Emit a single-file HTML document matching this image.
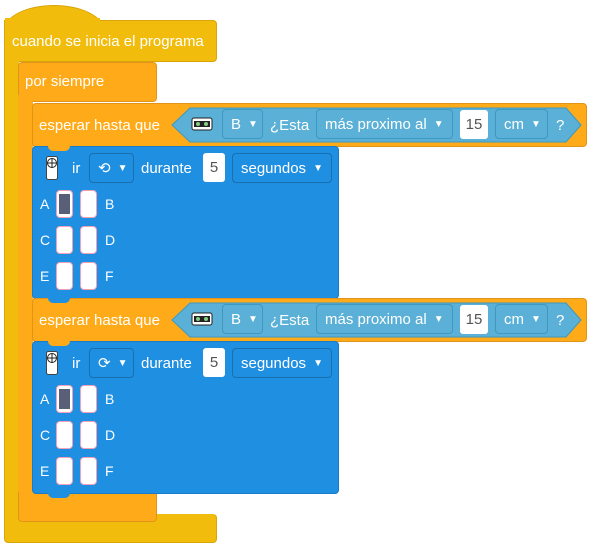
<!DOCTYPE html>
<html><head><meta charset="utf-8"><style>
body{margin:0;width:600px;height:558px;background:#fff;position:relative;overflow:hidden;font-family:"Liberation Sans",sans-serif;}
.a{position:absolute;box-sizing:border-box;}
.t{position:absolute;color:#fff;font-size:15px;line-height:18px;white-space:nowrap;}
.y{background:#f2bc0c;border:1px solid #d9a60a;border-radius:4px;}
.o{background:#ffab19;border:1px solid #e0941a;border-radius:4px;}
.b{background:#1f8fe2;border:1px solid #1a7cc6;border-radius:4px;}
.dd{position:absolute;box-sizing:border-box;border:1px solid #1a6fae;border-radius:4px;color:#fff;font-size:15px;padding-left:8px;white-space:nowrap;display:flex;align-items:center;gap:7px;}
.dd i{font-style:normal;font-size:10px;}
.ddl{border-color:#3d98c2;background:#5ab0d6;}
.w{position:absolute;background:#fff;border-radius:3px;color:#555;font-size:15px;display:flex;align-items:center;justify-content:center;}
.cell{position:absolute;width:17px;height:28px;background:#fff;border:1px solid #f3a0b8;border-radius:4px;box-sizing:border-box;}
.lbl{position:absolute;color:#fff;font-size:14px;}
</style></head><body>
<!-- hat -->
<div class="a" style="left:4px;top:5px;width:100px;height:40px;background:#f2bc0c;border-radius:60px 60px 0 0/30px 30px 0 0;border:1px solid #d9a60a"></div>
<div class="a y" style="left:4px;top:20px;width:213px;height:42px;border-radius:0 4px 4px 0;border-left:1px solid #d9a60a"></div>
<div class="a" style="left:5px;top:18px;width:95px;height:6px;background:#f2bc0c"></div>
<div class="t" style="left:12px;top:33px">cuando se inicia el programa</div>
<div class="a" style="left:4px;top:55px;width:15px;height:480px;background:#f2bc0c;border-left:1px solid #d9a60a"></div>
<div class="a y" style="left:4px;top:514px;width:213px;height:29px;border-top:none;border-radius:0 4px 4px 4px"></div>
<!-- forever -->
<div class="a o" style="left:18px;top:62px;width:139px;height:40px"></div>
<div class="t" style="left:25px;top:73px">por siempre</div>
<div class="a" style="left:18px;top:95px;width:15px;height:410px;background:#ffab19"></div>
<div class="a o" style="left:18px;top:492px;width:139px;height:30px;border-top:none;border-radius:0 0 4px 4px"></div>

<div style="position:absolute;left:0;top:0;width:600px;height:300px">
<div class="a o" style="left:32px;top:103px;width:555px;height:44px"></div>
<div class="t" style="left:39px;top:117px">esperar hasta que</div>
<svg class="a" style="left:168px;top:107px" width="416" height="37"><polygon points="4,18 22,1 398,1 413,18 398,35 22,35" fill="#5ab0d6" stroke="#3d98c2"/></svg>
<svg class="a" style="left:191px;top:117px" width="22" height="14"><rect x="1" y="1" width="20" height="12" rx="2" fill="#fff" stroke="#222"/><rect x="3" y="4" width="16" height="6" fill="#222"/><circle cx="7" cy="7" r="2" fill="#8c8"/><circle cx="15" cy="7" r="2" fill="#8c8"/></svg>
<div class="dd ddl" style="left:222px;top:109px;width:41px;height:30px">B<i>▼</i></div>
<div class="t" style="left:270px;top:117px">¿Esta</div>
<div class="dd ddl" style="left:316px;top:109px;width:137px;height:30px">más proximo al<i>▼</i></div>
<div class="w" style="left:460px;top:110px;width:28px;height:29px">15</div>
<div class="dd ddl" style="left:495px;top:109px;width:53px;height:30px">cm<i>▼</i></div>
<div class="t" style="left:556px;top:117px">?</div>
<div class="a b" style="left:32px;top:146px;width:307px;height:153px"></div>
<svg class="a" style="left:46px;top:156px" width="12" height="24"><rect x="0.5" y="0.5" width="11" height="23" rx="2" fill="#fff" stroke="#444"/><circle cx="6" cy="7" r="4.5" fill="none" stroke="#222"/><path d="M6 2v10M1 7h10" stroke="#222"/></svg>
<div class="t" style="left:72px;top:160px">ir</div>
<div class="dd" style="left:89px;top:153px;width:45px;height:30px">⟲<i>▼</i></div>
<div class="t" style="left:141px;top:160px">durante</div>
<div class="w" style="left:203px;top:153px;width:22px;height:29px">5</div>
<div class="dd" style="left:232px;top:153px;width:100px;height:30px">segundos<i>▼</i></div>
<div class="lbl" style="left:40px;top:196px">A</div><div class="lbl" style="left:105px;top:196px">B</div>
<div class="lbl" style="left:40px;top:232px">C</div><div class="lbl" style="left:105px;top:232px">D</div>
<div class="lbl" style="left:40px;top:268px">E</div><div class="lbl" style="left:105px;top:268px">F</div>
<div class="cell" style="left:56px;top:190px"></div><div class="a" style="left:59px;top:194px;width:11px;height:20px;background:#5a5f78"></div>
<div class="cell" style="left:80px;top:190px"></div>
<div class="cell" style="left:56px;top:226px"></div><div class="cell" style="left:80px;top:226px"></div>
<div class="cell" style="left:56px;top:262px"></div><div class="cell" style="left:80px;top:262px"></div>
</div>
<div style="position:absolute;left:0;top:195px;width:600px;height:300px">
<div class="a o" style="left:32px;top:103px;width:555px;height:44px"></div>
<div class="t" style="left:39px;top:117px">esperar hasta que</div>
<svg class="a" style="left:168px;top:107px" width="416" height="37"><polygon points="4,18 22,1 398,1 413,18 398,35 22,35" fill="#5ab0d6" stroke="#3d98c2"/></svg>
<svg class="a" style="left:191px;top:117px" width="22" height="14"><rect x="1" y="1" width="20" height="12" rx="2" fill="#fff" stroke="#222"/><rect x="3" y="4" width="16" height="6" fill="#222"/><circle cx="7" cy="7" r="2" fill="#8c8"/><circle cx="15" cy="7" r="2" fill="#8c8"/></svg>
<div class="dd ddl" style="left:222px;top:109px;width:41px;height:30px">B<i>▼</i></div>
<div class="t" style="left:270px;top:117px">¿Esta</div>
<div class="dd ddl" style="left:316px;top:109px;width:137px;height:30px">más proximo al<i>▼</i></div>
<div class="w" style="left:460px;top:110px;width:28px;height:29px">15</div>
<div class="dd ddl" style="left:495px;top:109px;width:53px;height:30px">cm<i>▼</i></div>
<div class="t" style="left:556px;top:117px">?</div>
<div class="a b" style="left:32px;top:146px;width:307px;height:153px"></div>
<svg class="a" style="left:46px;top:156px" width="12" height="24"><rect x="0.5" y="0.5" width="11" height="23" rx="2" fill="#fff" stroke="#444"/><circle cx="6" cy="7" r="4.5" fill="none" stroke="#222"/><path d="M6 2v10M1 7h10" stroke="#222"/></svg>
<div class="t" style="left:72px;top:160px">ir</div>
<div class="dd" style="left:89px;top:153px;width:45px;height:30px">⟳<i>▼</i></div>
<div class="t" style="left:141px;top:160px">durante</div>
<div class="w" style="left:203px;top:153px;width:22px;height:29px">5</div>
<div class="dd" style="left:232px;top:153px;width:100px;height:30px">segundos<i>▼</i></div>
<div class="lbl" style="left:40px;top:196px">A</div><div class="lbl" style="left:105px;top:196px">B</div>
<div class="lbl" style="left:40px;top:232px">C</div><div class="lbl" style="left:105px;top:232px">D</div>
<div class="lbl" style="left:40px;top:268px">E</div><div class="lbl" style="left:105px;top:268px">F</div>
<div class="cell" style="left:56px;top:190px"></div><div class="a" style="left:59px;top:194px;width:11px;height:20px;background:#5a5f78"></div>
<div class="cell" style="left:80px;top:190px"></div>
<div class="cell" style="left:56px;top:226px"></div><div class="cell" style="left:80px;top:226px"></div>
<div class="cell" style="left:56px;top:262px"></div><div class="cell" style="left:80px;top:262px"></div>
</div>
<!-- notches -->
<div class="a" style="left:48px;top:297px;width:22px;height:6px;background:#1f8fe2;border-radius:0 0 5px 5px"></div>
<div class="a" style="left:48px;top:492px;width:22px;height:6px;background:#1f8fe2;border-radius:0 0 5px 5px"></div>
<div class="a" style="left:48px;top:145px;width:22px;height:6px;background:#ffab19;border-radius:0 0 5px 5px"></div>
<div class="a" style="left:48px;top:340px;width:22px;height:6px;background:#ffab19;border-radius:0 0 5px 5px"></div>
</body></html>
